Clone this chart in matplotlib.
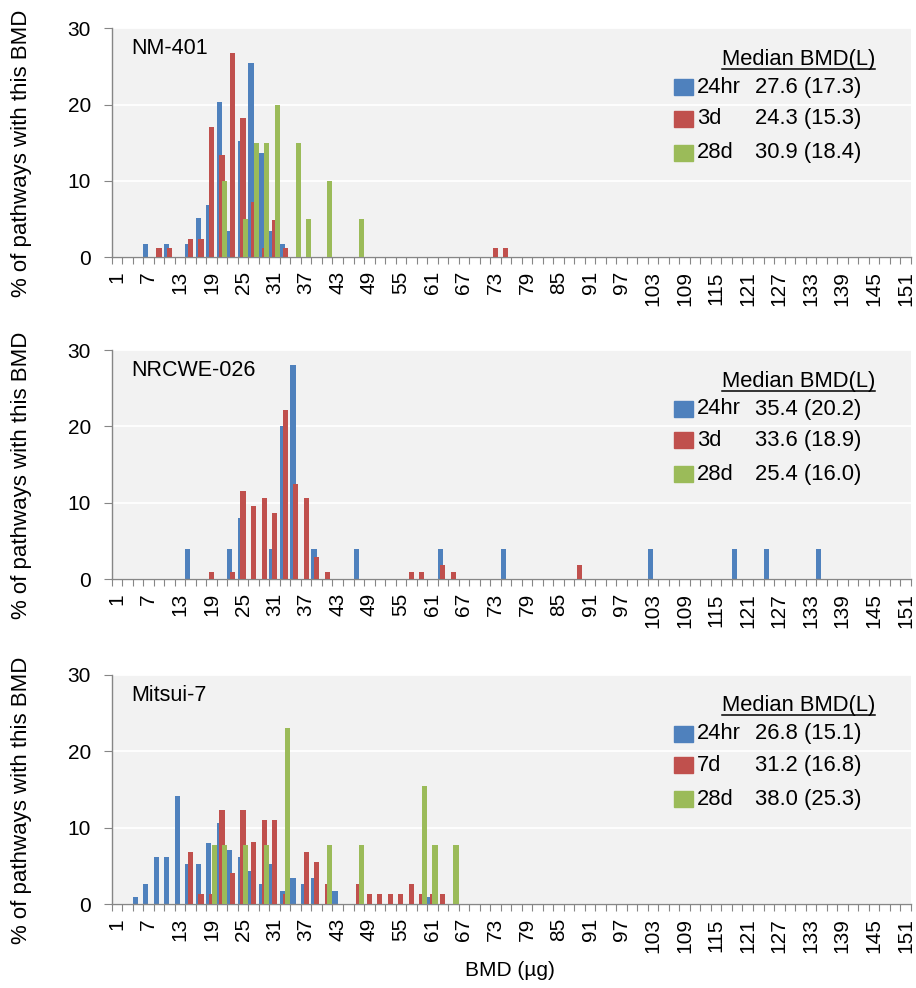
import matplotlib
matplotlib.use('Agg')
import matplotlib.pyplot as plt
from matplotlib.patches import Rectangle
import numpy as np

plt.rcParams['font.family'] = ['Liberation Sans', 'DejaVu Sans']

# BMD bins on the category axis (every odd value 1..151)
bins = list(range(1, 152, 2))

# NM-401
nm401_24hr_bins = [7, 11, 15, 17, 19, 21, 23, 25, 27, 29, 31, 33]
nm401_24hr_pct = [1.7, 1.7, 1.7, 5.1, 6.8, 20.3, 3.4, 15.3, 25.4, 13.6, 3.4, 1.7]
nm401_3d_bins = [9, 11, 15, 17, 19, 21, 23, 25, 27, 29, 31, 33, 73, 75]
nm401_3d_pct = [1.2, 1.2, 2.4, 2.4, 17.1, 13.4, 26.8, 18.3, 7.3, 1.2, 4.9, 1.2, 1.2, 1.2]
nm401_28d_bins = [21, 25, 27, 29, 31, 35, 37, 41, 47]
nm401_28d_pct = [10, 5, 15, 15, 20, 15, 5, 10, 5]

# NRCWE-026
nrcwe_24hr_bins = [15, 23, 25, 31, 33, 35, 39, 47, 63, 75, 103, 119, 125, 135]
nrcwe_24hr_pct = [4, 4, 8, 4, 20, 28, 4, 4, 4, 4, 4, 4, 4, 4]
nrcwe_3d_bins = [19, 23, 25, 27, 29, 31, 33, 35, 37, 39, 41, 57, 59, 63, 65, 89]
nrcwe_3d_pct = [1.0, 1.0, 11.5, 9.6, 10.6, 8.7, 22.1, 12.5, 10.6, 2.9, 1.0,
                1.0, 1.0, 1.9, 1.0, 1.9]
nrcwe_28d_bins = []
nrcwe_28d_pct = []

# Mitsui-7
mitsui_24hr_bins = [5, 7, 9, 11, 13, 15, 17, 19, 21, 23, 25, 27, 29, 31, 33,
                    35, 37, 39, 43, 61]
mitsui_24hr_pct = [0.9, 2.7, 6.2, 6.2, 14.2, 5.3, 5.3, 8.0, 10.6, 7.1, 6.2,
                   4.4, 2.7, 5.3, 1.8, 3.5, 2.7, 3.5, 1.8, 0.9]
mitsui_7d_bins = [15, 17, 19, 21, 23, 25, 27, 29, 31, 33, 37, 39, 41, 47, 49,
                  51, 53, 55, 57, 59, 61, 63]
mitsui_7d_pct = [6.8, 1.4, 1.4, 12.3, 4.1, 12.3, 8.2, 11.0, 11.0, 1.4, 6.8,
                 5.5, 2.7, 2.7, 1.4, 1.4, 1.4, 1.4, 2.7, 1.4, 1.4, 1.4]
mitsui_28d_bins = [19, 21, 25, 29, 33, 41, 47, 59, 61, 65]
mitsui_28d_pct = [7.7, 7.7, 7.7, 7.7, 23.1, 7.7, 7.7, 15.4, 7.7, 7.7]

panel_names = ['NM-401', 'NRCWE-026', 'Mitsui-7']
series_labels = [['24hr', '3d', '28d'], ['24hr', '3d', '28d'], ['24hr', '7d', '28d']]
median_text = [['27.6 (17.3)', '24.3 (15.3)', '30.9 (18.4)'],
               ['35.4 (20.2)', '33.6 (18.9)', '25.4 (16.0)'],
               ['26.8 (15.1)', '31.2 (16.8)', '38.0 (25.3)']]

colors = ['#4F81BD', '#C0504D', '#9BBB59']


def to_series(bin_list, pct_list):
    vals = np.zeros(len(bins))
    for b, p in zip(bin_list, pct_list):
        vals[bins.index(b)] = p
    return vals


panel_data = [
    [(nm401_24hr_bins, nm401_24hr_pct), (nm401_3d_bins, nm401_3d_pct), (nm401_28d_bins, nm401_28d_pct)],
    [(nrcwe_24hr_bins, nrcwe_24hr_pct), (nrcwe_3d_bins, nrcwe_3d_pct), (nrcwe_28d_bins, nrcwe_28d_pct)],
    [(mitsui_24hr_bins, mitsui_24hr_pct), (mitsui_7d_bins, mitsui_7d_pct), (mitsui_28d_bins, mitsui_28d_pct)],
]

W, H = 916, 988
fig = plt.figure(figsize=(W / 100, H / 100), dpi=100)

left_px, right_px = 111.7, 910.7
panel_px = [(28.3, 257.3), (350.0, 579.3), (674.7, 904.3)]
axis_grey = '#868686'
x = np.arange(len(bins))
offsets = [-0.5, -0.25, 0.0]
bar_w = 0.49

axes = []
for p, (top, bot) in enumerate(panel_px):
    ax = fig.add_axes([left_px / W, 1 - bot / H, (right_px - left_px) / W, (bot - top) / H])
    axes.append(ax)
    ax.set_facecolor('#F2F2F2')
    for s, (bl, pl) in enumerate(panel_data[p]):
        vals = to_series(bl, pl)
        ax.bar(x + offsets[s], vals, width=bar_w, align='edge', color=colors[s],
               linewidth=0, zorder=2 + s)

    ax.set_xlim(-0.5, len(bins) - 0.5)
    ax.set_ylim(0, 30)
    ax.set_yticks([0, 10, 20, 30])
    ax.yaxis.grid(True, color='white', lw=1.3)
    ax.set_axisbelow(True)
    for side in ['top', 'right']:
        ax.spines[side].set_visible(False)
    for side in ['left', 'bottom']:
        ax.spines[side].set_color(axis_grey)
        ax.spines[side].set_linewidth(1.0)
    ax.tick_params(axis='y', length=6, color=axis_grey, labelsize=15, pad=9)

    ax.set_xticks(np.arange(-0.5, len(bins), 1))
    ax.set_xticklabels([])
    ax.tick_params(axis='x', which='major', length=5, color=axis_grey)
    lab_idx = np.arange(0, len(bins), 3)
    ax.set_xticks(lab_idx, minor=True)
    ax.set_xticklabels([str(bins[i]) for i in lab_idx], minor=True, rotation=90)
    ax.tick_params(axis='x', which='minor', length=0, pad=10, labelsize=15)

    ax_h = bot - top
    ax_w = right_px - left_px

    def ay(px):
        return 1 - (px - top) / ax_h

    def axx(px):
        return (px - left_px) / ax_w

    ax.text(axx(131), ay(top + 20.4), panel_names[p], fontsize=15.5,
            ha='left', va='center', transform=ax.transAxes)

    hdr = ax.text(axx(722), ay(top + 36.7), 'Median BMD(L)', fontsize=15.8,
                  ha='left', va='baseline', transform=ax.transAxes)
    ax._hdr = hdr

    row_y = [top + 59, top + 90.4, top + 124.4]
    for s in range(3):
        ax.add_patch(Rectangle((axx(674), ay(row_y[s] + 8)), 19 / ax_w, 16 / ax_h,
                               transform=ax.transAxes, color=colors[s],
                               clip_on=False, zorder=5))
        ax.text(axx(696.7), ay(row_y[s]), series_labels[p][s], fontsize=15.8,
                ha='left', va='center', transform=ax.transAxes)
        ax.text(axx(755), ay(row_y[s]), median_text[p][s], fontsize=15.8,
                ha='left', va='center', transform=ax.transAxes)

    fig.text(22 / W, 1 - ((top + bot) / 2 + 11) / H, '% of pathways with this BMD',
             rotation=90, ha='center', va='center', fontsize=16)

fig.text(510 / W, 1 - 970 / H, 'BMD (µg)', ha='center', va='center', fontsize=15)

# underline the "Median BMD(L)" headers
fig.canvas.draw()
for ax in axes:
    bb = ax._hdr.get_window_extent()
    inv = ax.transAxes.inverted()
    (x0, y0), (x1, _) = inv.transform([(bb.x0, bb.y0), (bb.x1, bb.y0)])
    ax.plot([x0, x1], [y0 + 0.004, y0 + 0.004], color='black', lw=1.1,
            transform=ax.transAxes, clip_on=False, zorder=6)

fig.savefig('out.png', dpi=100)
